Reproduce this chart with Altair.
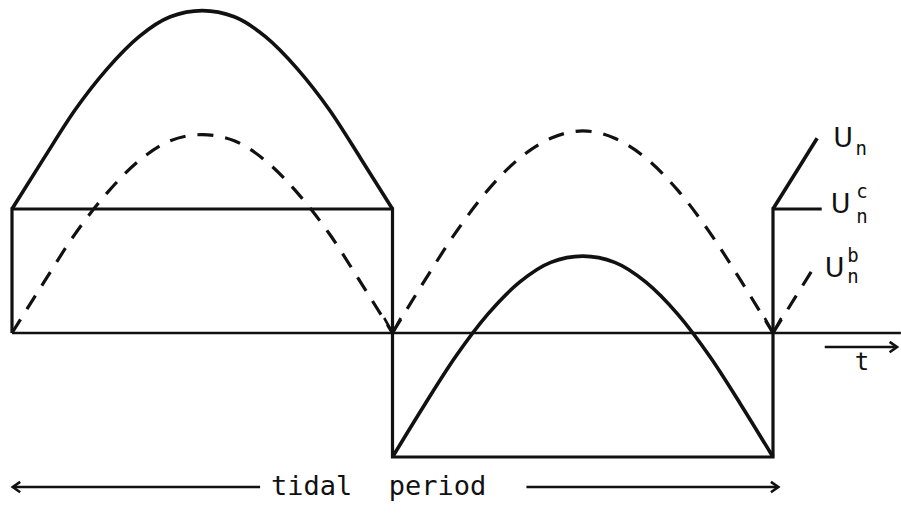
import altair as alt
import pandas as pd

# Phase within one tidal period (0 = start, 1 = one full period), read every 1/24 period
phase_first = [0.0, 0.042, 0.083, 0.125, 0.167, 0.208, 0.25, 0.292, 0.333, 0.375, 0.417, 0.458, 0.5]
phase_second = [0.5, 0.542, 0.583, 0.625, 0.667, 0.708, 0.75, 0.792, 0.833, 0.875, 0.917, 0.958, 1.0]
phase_tail = [1.0, 1.058]

# Periodic component U_n^b (dashed)
ub_first = [0.0, 0.41, 0.80, 1.13, 1.39, 1.55, 1.60, 1.55, 1.39, 1.13, 0.80, 0.41, 0.0]
ub_second = [0.0, 0.42, 0.81, 1.15, 1.41, 1.57, 1.63, 1.57, 1.41, 1.15, 0.81, 0.42, 0.0]
ub_tail = [0.0, 0.57]

# Total U_n (solid curve)
un_first = [1.0, 1.41, 1.80, 2.13, 2.39, 2.55, 2.60, 2.55, 2.39, 2.13, 1.80, 1.41, 1.0]
un_second = [-1.0, -0.58, -0.19, 0.15, 0.41, 0.57, 0.62, 0.57, 0.41, 0.15, -0.19, -0.58, -1.0]
un_tail = [1.0, 1.57]

# Constant component U_n^c (square wave)
uc_phase = [0.0, 0.0, 0.5, 0.5, 1.0, 1.0, 1.064]
uc_level = [0.0, 1.0, 1.0, -1.0, -1.0, 1.0, 1.0]

# zero crossings of U_n^b marked with small arrowheads
zero_phase = [0.5, 1.0]

INK = "#111111"


def segments(parts):
    rows = []
    for seg, (ph, vals) in enumerate(parts):
        for p, v in zip(ph, vals):
            rows.append({"t": p, "v": v, "seg": seg})
    return pd.DataFrame(rows)


ub_df = segments([(phase_first, ub_first), (phase_second, ub_second), (phase_tail, ub_tail)])
un_df = segments([(phase_first, un_first), (phase_second, un_second), (phase_tail, un_tail)])
uc_df = pd.DataFrame({"t": uc_phase, "v": uc_level, "k": list(range(len(uc_phase)))})
zero_df = pd.DataFrame({"t": zero_phase, "v": [0.0] * len(zero_phase)})

xs = alt.Scale(domain=[-0.01577, 1.1682], nice=False, zero=False)
ys = alt.Scale(domain=[-1.4597, 2.6855], nice=False, zero=False)


def X(field="t"):
    return alt.X(f"{field}:Q", scale=xs, axis=None)


def Y(field="v"):
    return alt.Y(f"{field}:Q", scale=ys, axis=None)


dashed = alt.Chart(ub_df).mark_line(
    color=INK, strokeWidth=3.2, strokeDash=[16, 12], interpolate="monotone"
).encode(x=X(), y=Y(), detail="seg:N")

solid = alt.Chart(un_df).mark_line(
    color=INK, strokeWidth=3.6, interpolate="monotone"
).encode(x=X(), y=Y(), detail="seg:N")

square = alt.Chart(uc_df).mark_line(color=INK, strokeWidth=3.2).encode(
    x=X(), y=Y(), order="k:Q"
)

# horizontal rules: time axis, t arrow shaft, tidal period arrow shafts
rules_df = pd.DataFrame({
    "t": [0.0, 1.068, 0.002, 0.676],
    "t2": [1.168, 1.160, 0.326, 1.005],
    "v": [0.0, -0.113, -1.242, -1.242],
})
rules = alt.Chart(rules_df).mark_rule(color=INK, strokeWidth=2.5).encode(
    x=X(), x2="t2:Q", y=Y()
)

zero_marks = alt.Chart(zero_df).mark_point(
    shape="M-0.55,-1L0,0L0.55,-1", filled=False, size=900, color=INK,
    strokeWidth=2.6, opacity=1
).encode(x=X(), y=Y())

right_heads = alt.Chart(pd.DataFrame({"t": [1.163, 1.007], "v": [-0.113, -1.242]})).mark_point(
    shape="M-1,-0.7L0,0L-1,0.7", filled=False, size=220, color=INK,
    strokeWidth=2.6, opacity=1
).encode(x=X(), y=Y())

left_heads = alt.Chart(pd.DataFrame({"t": [0.001], "v": [-1.242]})).mark_point(
    shape="M1,-0.7L0,0L1,0.7", filled=False, size=220, color=INK,
    strokeWidth=2.6, opacity=1
).encode(x=X(), y=Y())


def labels(rows, size, align, font):
    df = pd.DataFrame(rows, columns=["label", "t", "v"])
    return alt.Chart(df).mark_text(
        font=font, fontSize=size, align=align, baseline="alphabetic", color=INK
    ).encode(x=X(), y=Y(), text="label:N")


period_left = labels([("tidal", 0.4470, -1.31)], 27, "right", "DejaVu Sans Mono")
period_right = labels([("period", 0.4950, -1.31)], 27, "left", "DejaVu Sans Mono")
t_label = labels([("t", 1.117, -0.30)], 24, "center", "DejaVu Sans Mono")
big_u = labels([("U", 1.092, 1.50), ("U", 1.089, 0.968), ("U", 1.081, 0.452)],
               27, "center", "DejaVu Sans")
scripts = labels([("n", 1.116, 1.435), ("c", 1.117, 1.089), ("n", 1.117, 0.887),
                  ("b", 1.105, 0.573), ("n", 1.105, 0.403)],
                 19, "center", "DejaVu Sans Mono")

chart = alt.layer(
    rules, dashed, square, solid, zero_marks, right_heads, left_heads,
    period_left, period_right, t_label, big_u, scripts
).properties(
    width=901, height=514, padding=0, autosize="none", background="white"
).configure_view(stroke=None)

chart.save("out.html", embed_options={"renderer": "svg", "actions": False})
